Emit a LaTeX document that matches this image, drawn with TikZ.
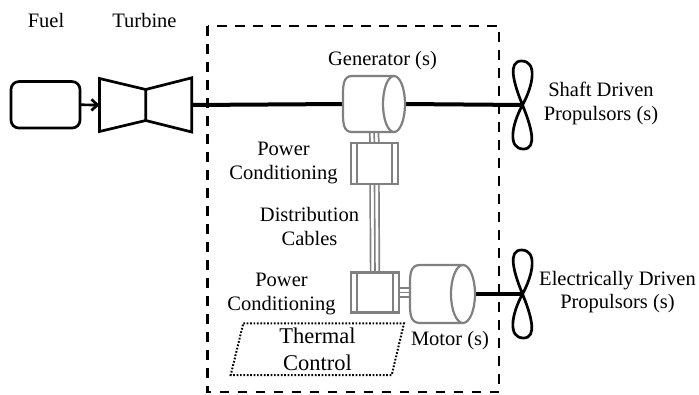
\documentclass[tikz,border=0pt]{standalone}
\usepackage{fontspec}
\setmainfont{Liberation Serif}
\usetikzlibrary{arrows.meta}
\definecolor{gcol}{RGB}{128,128,128}
\tikzset{
  lbl/.style={font=\fontsize{20.5}{23.5}\selectfont, align=center, inner sep=0pt, anchor=base},
  biglbl/.style={lbl, font=\fontsize{22.5}{26.7}\selectfont},
  shaft/.style={line width=4pt, black},
  blk/.style={line width=2.7pt, black, line join=miter},
  gline/.style={draw=gcol, line width=2.2pt, fill=white},
  cable/.style={draw=gcol, line width=1.7pt, double=white, double distance=7pt},
  cablemid/.style={draw=gcol, line width=1.6pt},
  ghost/.style={inner sep=0pt, outer sep=0pt, draw=none},
  boundary/.style={line width=2.5pt, dash pattern=on 9.5pt off 8.5pt},
  thermbox/.style={line width=2pt, dash pattern=on 1.7pt off 1.7pt},
  propstyle/.style={line width=2.7pt, line join=round},
  propeller/.pic={
    \draw[propstyle] (0,0) .. controls (-9,-22) and (-15,-44) .. (-1,-44)
                           .. controls (15,-44) and (11,-20) .. (0,0);
    \draw[propstyle] (0,0) .. controls (-11,20) and (-15,44) .. (1,44)
                           .. controls (15,44) and (9,22) .. (0,0);
  }
}
\begin{document}
\begin{tikzpicture}[x=1pt,y=-1pt]
\useasboundingbox (0,0) rectangle (699,394);

% dashed boundary
\draw[boundary] (207.5,26) rectangle (499,392);

% invisible anchor nodes
\node[ghost, minimum width=69pt, minimum height=46.5pt, draw, blk, rounded corners=8pt] (fuel) at (45.5,104.8) {};
\node[ghost, minimum width=92.5pt, minimum height=54pt] (turb) at (145.7,105) {};
\node[ghost, minimum width=62pt, minimum height=56pt] (gen) at (374,104) {};
\node[ghost, minimum width=47.5pt, minimum height=41pt] (pc1) at (374.5,163.4) {};
\node[ghost, minimum width=47.5pt, minimum height=40pt] (pc2) at (375,292.5) {};
\node[ghost, minimum width=65pt, minimum height=58pt] (mot) at (442.5,294) {};
\coordinate (prop1) at (522.5,105);
\coordinate (prop2) at (522.5,294);

% turbine
\draw[blk] (99.5,78.5) -- (145.7,89.5) -- (145.7,120.5) -- (99.5,131.5) -- cycle;
\draw[blk] (145.7,89.5) -- (191.8,77.8) -- (191.8,132) -- (145.7,120.5);

% fuel arrow
\draw[blk, -{Straight Barb[length=6pt,width=11pt]}] (fuel.east) -- (turb.west);

% shafts
\draw[shaft] (turb.east) -- (gen.west);
\draw[shaft] (gen.east) -- (prop1);
\draw[shaft] (mot.east) -- (prop2);

% cables
\draw[cable] (gen.south) -- (pc1.north);
\draw[cablemid] (gen.south) -- (pc1.north);
\draw[cable] (pc1.south) -- (pc2.north);
\draw[cablemid] (pc1.south) -- (pc2.north);
\draw[cable] (pc2.east) -- (pc2.east -| mot.west);
\draw[cablemid] (pc2.east) -- (pc2.east -| mot.west);

% generator
\draw[gline] (394,76) -- (352,76) .. controls (343,76) and (343,86) .. (343,96)
  -- (343,112) .. controls (343,122) and (343,132) .. (352,132) -- (394,132);
\draw[gline] (394,104) ellipse [x radius=11pt, y radius=28pt];

% motor
\draw[gline] (463,265) -- (420,265) .. controls (410,265) and (410,275) .. (410,285)
  -- (410,303) .. controls (410,313) and (410,323) .. (420,323) -- (463,323);
\draw[gline] (463,294) ellipse [x radius=12pt, y radius=29pt];

% power conditioning boxes
\draw[gline] (pc1.south west) rectangle (pc1.north east);
\draw[gline] ([xshift=6pt]pc1.south west) -- ([xshift=6pt]pc1.north west);
\draw[gline] ([xshift=-6pt]pc1.south east) -- ([xshift=-6pt]pc1.north east);
\draw[gline] (pc2.south west) rectangle (pc2.north east);
\draw[gline] ([xshift=6pt]pc2.south west) -- ([xshift=6pt]pc2.north west);
\draw[gline] ([xshift=-6pt]pc2.south east) -- ([xshift=-6pt]pc2.north east);

% propellers
\pic at (prop1) {propeller};
\pic at (prop2) {propeller};

% thermal control
\draw[thermbox] (243.3,323.3) -- (404,323.3) -- (391.7,375) -- (230.7,375) -- cycle;
\node[biglbl] (thermal) at (317.5,370) {Thermal\\Control};

% labels
\node[lbl] (lfuel) at (46,27.7) {Fuel};
\node[lbl] (lturb) at (144.5,27.7) {Turbine};
\node[lbl] (lgen) at (382.5,65.7) {Generator (s)};
\node[lbl] (lshaft) at (601,120.2) {Shaft Driven\\Propulsors (s)};
\node[lbl] (lpc1) at (283.5,179) {Power\\Conditioning};
\node[lbl] (ldist) at (309.5,245.2) {Distribution\\Cables};
\node[lbl] (lpc2) at (281.5,310.2) {Power\\Conditioning};
\node[lbl] (lmot) at (450,345) {Motor (s)};
\node[lbl] (lelec) at (617.5,308.5) {Electrically Driven\\Propulsors (s)};
\end{tikzpicture}
\end{document}
